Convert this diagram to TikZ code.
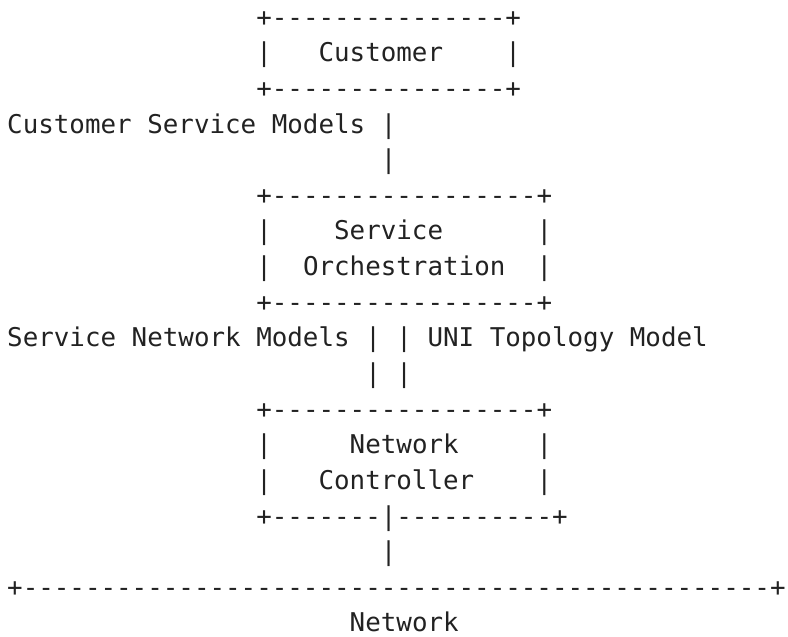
\documentclass[tikz,border=0pt]{standalone}
\usepackage{fontspec}
\setmonofont{DejaVu Sans Mono}
\definecolor{ink}{RGB}{34,34,34}
\begin{document}
\begin{tikzpicture}[x=1pt,y=1pt,
  row/.style={anchor=base west, inner sep=0pt, outer sep=0pt, text=ink,
    font=\ttfamily\fontsize{25.86pt}{35.64pt}\selectfont}]
\useasboundingbox (0,0) rectangle (788,-637);
\def\colw{15.57}
\def\xo{7.2}
\def\bo{26.1}
\def\ls{35.64}
\node[row] (r0)  at ({\xo+16*\colw},{-\bo-0*\ls})  {+---------------+};
\node[row] (r1)  at ({\xo+16*\colw},{-\bo-1*\ls})  {|~~~Customer~~~~|};
\node[row] (r2)  at ({\xo+16*\colw},{-\bo-2*\ls})  {+---------------+};
\node[row] (r3)  at ({\xo+0*\colw},{-\bo-3*\ls})   {Customer~Service~Models~|};
\node[row] (r4)  at ({\xo+24*\colw},{-\bo-4*\ls})  {|};
\node[row] (r5)  at ({\xo+16*\colw},{-\bo-5*\ls})  {+-----------------+};
\node[row] (r6)  at ({\xo+16*\colw},{-\bo-6*\ls})  {|~~~~Service~~~~~~|};
\node[row] (r7)  at ({\xo+16*\colw},{-\bo-7*\ls})  {|~~Orchestration~~|};
\node[row] (r8)  at ({\xo+16*\colw},{-\bo-8*\ls})  {+-----------------+};
\node[row] (r9)  at ({\xo+0*\colw},{-\bo-9*\ls})   {Service~Network~Models~|~|~UNI~Topology~Model};
\node[row] (r10) at ({\xo+23*\colw},{-\bo-10*\ls}) {|~|};
\node[row] (r11) at ({\xo+16*\colw},{-\bo-11*\ls}) {+-----------------+};
\node[row] (r12) at ({\xo+16*\colw},{-\bo-12*\ls}) {|~~~~~Network~~~~~|};
\node[row] (r13) at ({\xo+16*\colw},{-\bo-13*\ls}) {|~~~Controller~~~~|};
\node[row] (r14) at ({\xo+16*\colw},{-\bo-14*\ls}) {+-------|----------+};
\node[row] (r15) at ({\xo+24*\colw},{-\bo-15*\ls}) {|};
\node[row] (r16) at ({\xo+0*\colw},{-\bo-16*\ls})  {+------------------------------------------------+};
\node[row] (r17) at ({\xo+22*\colw},{-\bo-17*\ls}) {Network};
\end{tikzpicture}
\end{document}
